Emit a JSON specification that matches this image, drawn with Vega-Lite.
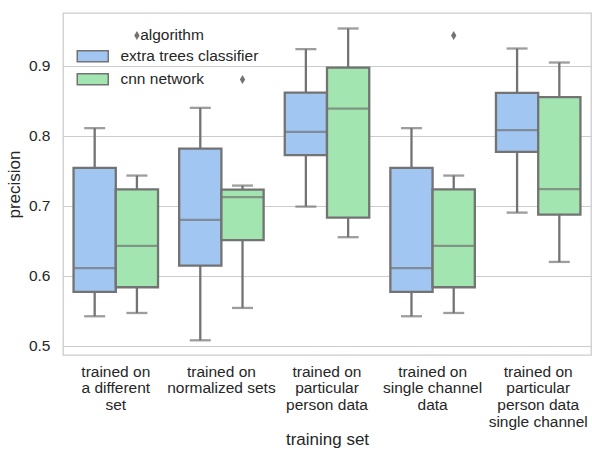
{
  "$schema": "https://vega.github.io/schema/vega-lite/v6.json",
  "width": 528,
  "height": 342,
  "autosize": {"type": "none"},
  "padding": {"left": 63, "top": 13, "right": 1, "bottom": 97},
  "background": "white",
  "config": {
    "font": "Liberation Sans",
    "view": {"stroke": "#cccccc", "strokeWidth": 1.3},
    "axis": {"labelColor": "#262626", "titleColor": "#262626", "titleFontWeight": "normal", "labelFontSize": 15.5, "titleFontSize": 17, "domain": false, "ticks": false, "gridColor": "#cccccc", "gridWidth": 1.2}
  },
  "datasets": {
    "boxes": [
      {"set": "trained on\na different\nset", "algorithm": "extra trees classifier", "lower": 0.542, "q1": 0.5767, "median": 0.6106, "q3": 0.7539, "upper": 0.8106},
      {"set": "trained on\na different\nset", "algorithm": "cnn network", "lower": 0.5467, "q1": 0.5834, "median": 0.6424, "q3": 0.7232, "upper": 0.7429},
      {"set": "trained on\nnormalized sets", "algorithm": "extra trees classifier", "lower": 0.5077, "q1": 0.6143, "median": 0.6796, "q3": 0.7814, "upper": 0.8396},
      {"set": "trained on\nnormalized sets", "algorithm": "cnn network", "lower": 0.5539, "q1": 0.6506, "median": 0.712, "q3": 0.7228, "upper": 0.7286},
      {"set": "trained on\nparticular\nperson data", "algorithm": "extra trees classifier", "lower": 0.6986, "q1": 0.772, "median": 0.8053, "q3": 0.8614, "upper": 0.9234},
      {"set": "trained on\nparticular\nperson data", "algorithm": "cnn network", "lower": 0.6549, "q1": 0.6829, "median": 0.8386, "q3": 0.8971, "upper": 0.9529},
      {"set": "trained on\nsingle channel\ndata", "algorithm": "extra trees classifier", "lower": 0.542, "q1": 0.5767, "median": 0.6106, "q3": 0.7539, "upper": 0.8106},
      {"set": "trained on\nsingle channel\ndata", "algorithm": "cnn network", "lower": 0.5467, "q1": 0.5834, "median": 0.6424, "q3": 0.7232, "upper": 0.7429},
      {"set": "trained on\nparticular\nperson data\nsingle channel", "algorithm": "extra trees classifier", "lower": 0.69, "q1": 0.7767, "median": 0.8077, "q3": 0.861, "upper": 0.9243},
      {"set": "trained on\nparticular\nperson data\nsingle channel", "algorithm": "cnn network", "lower": 0.6196, "q1": 0.6871, "median": 0.7234, "q3": 0.8549, "upper": 0.9043}
    ],
    "outliers": [
      {"set": "trained on\na different\nset", "algorithm": "cnn network", "precision": 0.943},
      {"set": "trained on\nnormalized sets", "algorithm": "cnn network", "precision": 0.88},
      {"set": "trained on\nsingle channel\ndata", "algorithm": "cnn network", "precision": 0.943}
    ]
  },
  "data": {"name": "boxes"},
  "encoding": {
    "x": {
      "field": "set", "type": "nominal", "sort": null,
      "scale": {"paddingInner": 0.2, "paddingOuter": 0.1},
      "axis": {"title": "training set", "labelAngle": 0, "labelExpr": "split(datum.label, '\\n')", "labelBaseline": "top", "labelLineHeight": 16.7, "labelFontSize": 15.5, "titleFontSize": 17, "labelPadding": 9, "titlePadding": 2, "grid": false}
    },
    "xOffset": {"field": "algorithm", "type": "nominal", "scale": {"domain": ["extra trees classifier", "cnn network"], "paddingInner": 0, "paddingOuter": 0}}
  },
  "layer": [
    {
      "mark": {"type": "rule", "color": "#737373", "strokeWidth": 2.3},
      "encoding": {
        "y": {"field": "lower", "type": "quantitative", "scale": {"domain": [0.4867, 0.975], "nice": false, "zero": false},
          "axis": {"title": "precision", "values": [0.5, 0.6, 0.7, 0.8, 0.9], "format": ".1f", "labelFontSize": 15.5, "titleFontSize": 17, "labelPadding": 13, "titlePadding": 5}},
        "y2": {"field": "upper"}
      }
    },
    {
      "mark": {"type": "tick", "color": "#737373", "size": 21, "thickness": 2.3},
      "encoding": {"y": {"field": "lower", "type": "quantitative"}}
    },
    {
      "mark": {"type": "tick", "color": "#737373", "size": 21, "thickness": 2.3},
      "encoding": {"y": {"field": "upper", "type": "quantitative"}}
    },
    {
      "mark": {"type": "bar", "stroke": "#737373", "strokeWidth": 2.3},
      "encoding": {
        "y": {"field": "q1", "type": "quantitative"},
        "y2": {"field": "q3"},
        "fill": {
          "field": "algorithm", "type": "nominal",
          "scale": {"domain": ["extra trees classifier", "cnn network"], "range": ["#a0c6f1", "#a2e5b0"]},
          "legend": {
            "title": "algorithm", "orient": "none", "legendX": 22, "legendY": 15,
            "symbolType": "M-2.818,-1H2.818V1H-2.818Z", "symbolSize": 121,
            "symbolStrokeColor": "#737373", "symbolStrokeWidth": 1.5,
            "labelOffset": 20, "labelFontSize": 15.5, "labelColor": "#262626",
            "titleFontSize": 15.5, "titleFontWeight": "normal", "titleColor": "#262626",
            "titleAnchor": "middle", "titlePadding": 5, "rowPadding": 5, "padding": 0
          }
        }
      }
    },
    {
      "mark": {"type": "tick", "color": "#737373", "size": 42, "thickness": 2.3},
      "encoding": {"y": {"field": "median", "type": "quantitative"}}
    },
    {
      "data": {"name": "outliers"},
      "mark": {"type": "point", "shape": "M0,-1L0.6,0L0,1L-0.6,0Z", "filled": true, "color": "#737373", "size": 80, "opacity": 1},
      "encoding": {"y": {"field": "precision", "type": "quantitative"}}
    }
  ]
}
